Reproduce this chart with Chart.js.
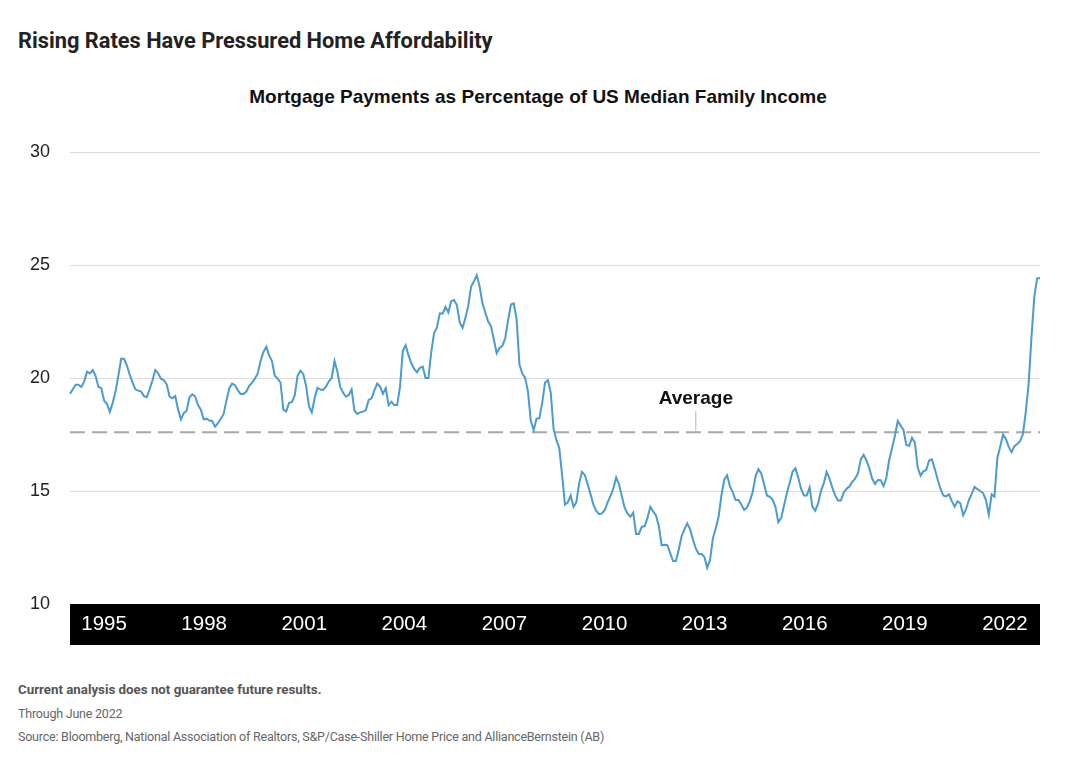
<!DOCTYPE html>
<html>
<head>
<meta charset="utf-8">
<script src="https://cdn.jsdelivr.net/npm/chart.js@4.4.1/dist/chart.umd.min.js"></script>
<style>
  body { margin: 0; background: #fff; width: 1074px; height: 782px; position: relative; overflow: hidden; font-family: "Liberation Sans", Arial, sans-serif; }
  .title { position: absolute; left: 18px; top: 28px; font: 700 21.8px Roboto, sans-serif; color: #222; line-height: 26px; }
  .subtitle { position: absolute; left: 0; width: 1076px; top: 86px; text-align: center; font: 700 19px "Liberation Sans", Arial, sans-serif; color: #111; line-height: 22px; }
  .wrap { position: absolute; left: 0; top: 120px; width: 1074px; height: 540px; }
  .note { position: absolute; left: 18px; font-family: Roboto, sans-serif; font-size: 12.5px; line-height: 16px; color: #666; letter-spacing: -0.22px; }
</style>
</head>
<body>
<div class="title">Rising Rates Have Pressured Home Affordability</div>
<div class="subtitle">Mortgage Payments as Percentage of US Median Family Income</div>
<div class="wrap"><canvas id="myChart"></canvas></div>
<div class="note" style="top:682px;font-weight:700;font-size:13.3px;letter-spacing:0;color:#555">Current analysis does not guarantee future results.</div>
<div class="note" style="top:706px">Through June 2022</div>
<div class="note" style="top:729px">Source: Bloomberg, National Association of Realtors, S&amp;P/Case-Shiller Home Price and AllianceBernstein (AB)</div>
<script>
document.addEventListener("DOMContentLoaded", function () {

  // monthly series, Jan 1994 - Jun 2022 (% of median family income)
  const payments = [
    19.3, 19.5, 19.7, 19.7, 19.6, 19.85, 20.28, 20.2, 20.35, 20.1, 19.6, 19.55,       // 1994
    19.0, 18.85, 18.5, 18.9, 19.4, 20.1, 20.85, 20.85, 20.55, 20.15, 19.8, 19.5,      // 1995
    19.44, 19.4, 19.2, 19.15, 19.5, 19.9, 20.35, 20.2, 19.97, 19.9, 19.72, 19.18,     // 1996
    19.1, 19.2, 18.6, 18.17, 18.45, 18.55, 19.15, 19.28, 19.18, 18.8, 18.6, 18.17,    // 1997
    18.2, 18.12, 18.1, 17.85, 18.0, 18.2, 18.4, 19.0, 19.55, 19.75, 19.68, 19.45,     // 1998
    19.29, 19.29, 19.4, 19.65, 19.8, 19.97, 20.2, 20.75, 21.15, 21.38, 21.0, 20.75,   // 1999
    20.1, 19.97, 19.8, 18.6, 18.52, 18.9, 18.93, 19.23, 20.1, 20.32, 20.18, 19.65,    // 2000
    18.75, 18.48, 19.1, 19.57, 19.49, 19.47, 19.62, 19.85, 20.0, 20.75, 20.28, 19.6,  // 2001
    19.35, 19.17, 19.25, 19.5, 18.55, 18.41, 18.48, 18.51, 18.58, 19.03, 19.1, 19.45, // 2002
    19.75, 19.62, 19.3, 19.55, 18.8, 18.95, 18.8, 18.8, 19.6, 21.2, 21.45, 21.0,      // 2003
    20.65, 20.4, 20.25, 20.45, 20.5, 20.0, 20.0, 21.15, 21.99, 22.24, 22.86, 22.85,   // 2004
    23.15, 22.9, 23.4, 23.45, 23.23, 22.47, 22.22, 22.65, 23.2, 24.05, 24.27, 24.55,  // 2005
    24.05, 23.3, 22.9, 22.5, 22.3, 21.7, 21.1, 21.33, 21.42, 21.75, 22.55, 23.25,     // 2006
    23.3, 22.6, 20.6, 20.2, 20.0, 19.4, 18.1, 17.7, 18.2, 18.22, 18.9, 19.8,          // 2007
    19.9, 19.35, 17.75, 17.25, 16.9, 15.7, 14.4, 14.5, 14.8, 14.3, 14.5, 15.35,       // 2008
    15.85, 15.7, 15.3, 14.85, 14.4, 14.12, 13.98, 14.01, 14.16, 14.5, 14.78, 15.1,    // 2009
    15.6, 15.3, 14.77, 14.25, 14.0, 13.86, 14.04, 13.1, 13.1, 13.42, 13.44, 13.8,     // 2010
    14.3, 14.1, 13.92, 13.45, 12.6, 12.62, 12.6, 12.25, 11.9, 11.9, 12.4, 13.0,       // 2011
    13.3, 13.57, 13.3, 12.85, 12.46, 12.21, 12.21, 12.09, 11.6, 11.95, 12.9, 13.35,   // 2012
    13.85, 14.8, 15.5, 15.7, 15.2, 14.94, 14.6, 14.6, 14.4, 14.16, 14.27, 14.55,      // 2013
    14.95, 15.65, 15.97, 15.78, 15.3, 14.8, 14.74, 14.62, 14.3, 13.62, 13.8, 14.35,   // 2014
    14.9, 15.35, 15.85, 16.0, 15.6, 15.1, 14.8, 14.8, 15.16, 14.3, 14.13, 14.45,      // 2015
    15.0, 15.35, 15.85, 15.55, 15.15, 14.8, 14.58, 14.58, 14.93, 15.1, 15.2, 15.4,    // 2016
    15.55, 15.78, 16.4, 16.6, 16.35, 16.0, 15.55, 15.31, 15.49, 15.48, 15.22, 15.6,   // 2017
    16.38, 16.9, 17.45, 18.1, 17.9, 17.7, 17.04, 17.0, 17.35, 17.15, 16.05, 15.68,    // 2018
    15.87, 15.93, 16.35, 16.4, 15.98, 15.52, 15.1, 14.8, 14.76, 14.85, 14.55, 14.31,  // 2019
    14.55, 14.45, 13.93, 14.2, 14.6, 14.87, 15.18, 15.08, 15.0, 14.91, 14.6, 13.95,   // 2020
    14.85, 14.75, 16.45, 16.96, 17.5, 17.3, 16.95, 16.72, 16.98, 17.08, 17.2, 17.52,  // 2021
    18.5, 19.75, 21.8, 23.6, 24.41, 24.41                                               // 2022
  ];
  const averageValue = 17.6;
  const averageLabelAt = "2012-05";
  const yearTicks = [1995, 1998, 2001, 2004, 2007, 2010, 2013, 2016, 2019, 2022];

  // month labels
  const months = [];
  for (let i = 0; i < payments.length; i++) {
    const y = 1994 + Math.floor(i / 12);
    const m = (i % 12) + 1;
    months.push(y + "-" + (m < 10 ? "0" + m : m));
  }

  // black strip under the plot
  const bandPlugin = {
    id: "band",
    beforeDraw(chart) {
      const { ctx, chartArea } = chart;
      ctx.save();
      ctx.fillStyle = "#000";
      ctx.fillRect(chartArea.left, chartArea.bottom, chartArea.right - chartArea.left, 41);
      ctx.restore();
    }
  };

  // average dashed line + label
  const averagePlugin = {
    id: "average",
    beforeDatasetsDraw(chart) {
      const { ctx, chartArea, scales } = chart;
      const y = scales.y.getPixelForValue(averageValue);
      const lx = scales.x.getPixelForValue(months.indexOf(averageLabelAt));
      ctx.save();
      ctx.strokeStyle = "#a8a8a8";
      ctx.lineWidth = 2;
      ctx.setLineDash([15, 7]);
      ctx.beginPath();
      ctx.moveTo(chartArea.left, y);
      ctx.lineTo(chartArea.right, y);
      ctx.stroke();
      ctx.setLineDash([]);
      ctx.lineWidth = 1;
      ctx.strokeStyle = "#b5b5b5";
      ctx.beginPath();
      ctx.moveTo(lx, y - 21);
      ctx.lineTo(lx, y);
      ctx.stroke();
      ctx.fillStyle = "#111";
      ctx.font = "700 19px 'Liberation Sans', Arial, sans-serif";
      ctx.textAlign = "center";
      ctx.textBaseline = "middle";
      ctx.fillText("Average", lx, y - 33);
      ctx.restore();
    }
  };

  const config = {
    type: "line",
    data: {
      labels: months,
      datasets: [{
        data: payments,
        borderColor: "#4a9bd1",
        borderWidth: 2,
        pointRadius: 0,
        tension: 0,
        fill: false
      }]
    },
    options: {
      responsive: true,
      maintainAspectRatio: false,
      animation: false,
      layout: { padding: { top: 32, right: 34, bottom: 15, left: 0 } },
      plugins: { legend: { display: false }, tooltip: { enabled: false } },
      scales: {
        x: { type: "category", display: false },
        years: {
          type: "linear",
          position: "bottom",
          min: 1993.98,
          max: 2023.05,
          afterBuildTicks: s => { s.ticks = yearTicks.map(v => ({ value: v })); },
          afterFit: s => { s.height = 41; },
          grid: { display: false, drawTicks: false },
          border: { display: false },
          ticks: {
            color: "#fff",
            font: { size: 20.5, family: "'Liberation Sans', Arial, sans-serif" },
            padding: 8,
            maxRotation: 0,
            autoSkip: false,
            callback: v => String(v)
          }
        },
        y: {
          min: 10,
          max: 30,
          afterFit: s => { s.width = 70; },
          grid: { color: c => (c.tick.value === 10 ? "rgba(0,0,0,0)" : "#dcdcdc"), drawTicks: false },
          border: { display: false },
          ticks: {
            stepSize: 5,
            color: "#222",
            padding: 20,
            font: { size: 18, family: "'Liberation Sans', Arial, sans-serif" }
          }
        }
      }
    },
    plugins: [bandPlugin, averagePlugin]
  };

  const myChart = new Chart(document.getElementById("myChart"), config);
});
</script>
</body>
</html>
